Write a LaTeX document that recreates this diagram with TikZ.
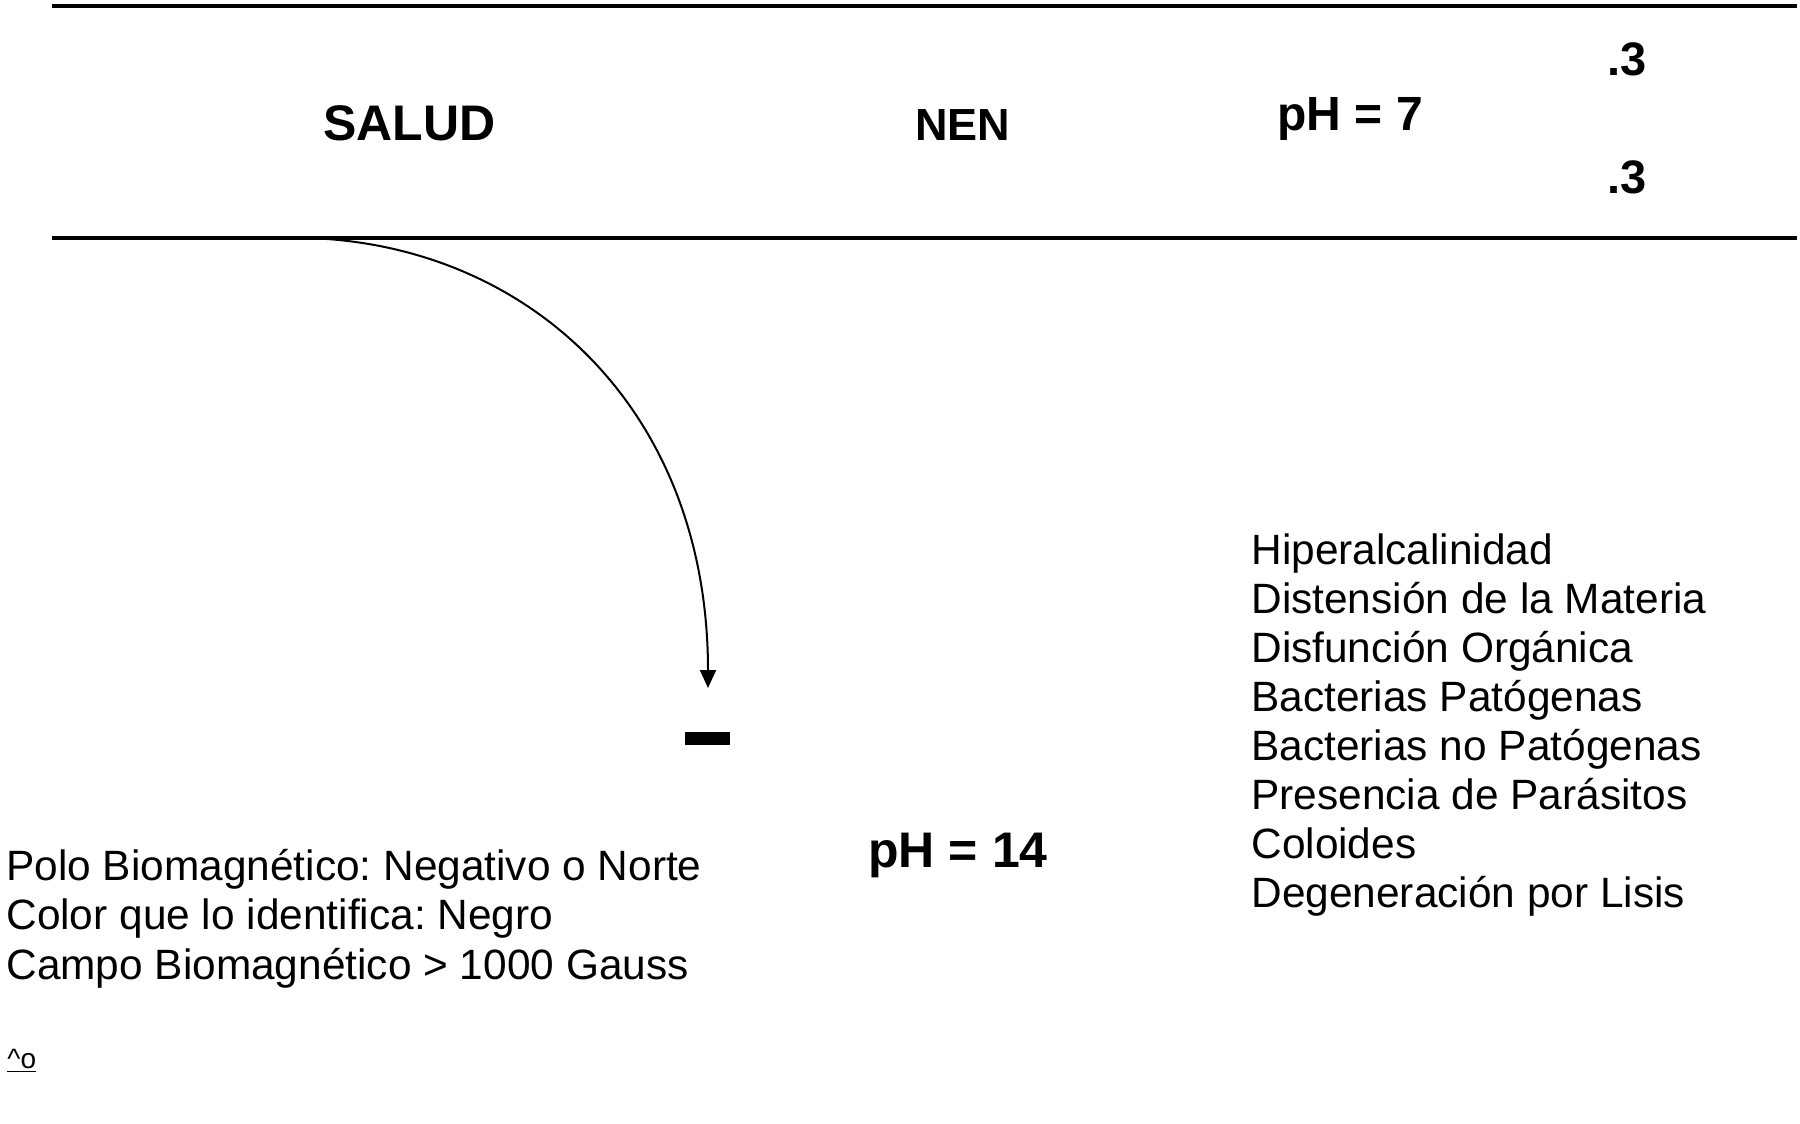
\documentclass[tikz,border=0pt]{standalone}
\usepackage{fontspec}
\setmainfont{Liberation Sans}
\usetikzlibrary{arrows.meta}
\frenchspacing
\begin{document}
\begin{tikzpicture}[x=0.5pt,y=-0.5pt,
  rotulo/.style={anchor=base west,inner sep=0pt,font=\bfseries\fontsize{#1}{#1}\selectfont},
  lista/.style={anchor=base west,inner sep=0pt,font=\fontsize{21.2}{25}\selectfont}]
\useasboundingbox (0,0) rectangle (1800,1124);
\draw[line width=1.7pt] (52,6) -- (1797,6);
\draw[line width=1.7pt] (52,238) -- (1797,238);
\node[rotulo=25] (salud) at (323,140) {SALUD};
\node[rotulo=22.5] (nen) at (915,140) {NEN};
\node[rotulo=24] (ph7) at (1277,130) {pH = 7};
\node[rotulo=23.5] (tresA) at (1607,75) {.3};
\node[rotulo=23.5] (tresB) at (1607,193) {.3};
\coordinate (salida) at (308,238);
\coordinate (polo) at (708,688);
\draw[line width=1pt,-{Triangle[length=9pt,width=8pt]}] (salida) .. controls (530,245) and (708,410) .. (polo);
\node[fill,inner sep=0pt,minimum width=22.5pt,minimum height=6.5pt] (menos) at (707.5,738.5) {};
\node[rotulo=25] (ph14) at (868,867) {pH = 14};
\foreach \t [count=\i] in {Polo Biomagnético: Negativo o Norte,Color que lo identifica: Negro,Campo Biomagnético > 1000 Gauss}
  \node[lista] (polo\i) at (6,{880+49.5*(\i-1)}) {\t};
\foreach \t [count=\i] in {Hiperalcalinidad,Distensión de la Materia,Disfunción Orgánica,Bacterias Patógenas,Bacterias no Patógenas,Presencia de Parásitos,Coloides,Degeneración por Lisis}
  \node[lista] (mal\i) at (1251,{564+49*(\i-1)}) {\t};
\node[anchor=base west,inner sep=0pt,font=\fontsize{14}{16}\selectfont] (nota) at (7,1068) {\underline{\textasciicircum o}};
\end{tikzpicture}
\end{document}
